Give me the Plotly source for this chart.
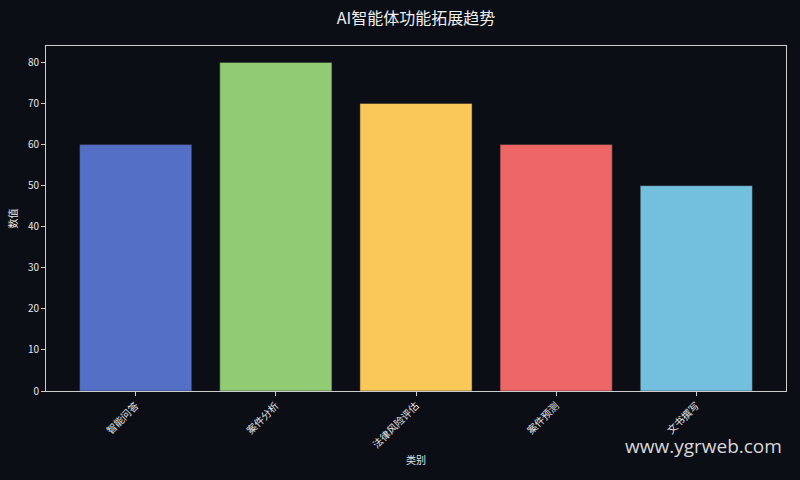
import plotly.graph_objects as go

categories = ["智能问答", "案件分析", "法律风险评估", "案件预测", "文书撰写"]
values = [60, 80, 70, 60, 50]
bar_colors = ["#5470c6", "#91cc75", "#fac858", "#ee6666", "#73c0de"]

bg = "#0b0e15"
font_cjk = "Noto Sans CJK SC, DejaVu Sans, sans-serif"

fig = go.Figure(
    go.Bar(
        x=categories,
        y=values,
        marker=dict(color=bar_colors, line=dict(color="#222222", width=0.5)),
        width=0.8,
    )
)

fig.update_layout(
    width=800,
    height=480,
    paper_bgcolor=bg,
    plot_bgcolor=bg,
    margin=dict(l=46, r=14, t=46, b=89),
    showlegend=False,
    font=dict(family=font_cjk, color="#e6e6e6", size=10),
    title=dict(
        text="AI智能体功能拓展趋势",
        xref="paper",
        x=0.5,
        xanchor="center",
        y=0.962,
        yanchor="middle",
        font=dict(size=16, color="#f0f0f0", family=font_cjk),
    ),
)

fig.update_xaxes(
    range=[-0.64, 4.64],
    tickangle=-45,
    ticks="outside",
    ticklen=4,
    tickcolor="#cccccc",
    showgrid=False,
    showline=True,
    linecolor="#cccccc",
    mirror=True,
    title=dict(text="类别", font=dict(size=10), standoff=6),
    tickfont=dict(size=10, color="#e6e6e6"),
)
fig.update_yaxes(
    range=[0, 84],
    dtick=10,
    ticks="outside",
    ticklen=4,
    tickcolor="#cccccc",
    showgrid=False,
    zeroline=False,
    showline=True,
    linecolor="#cccccc",
    mirror=True,
    title=dict(text="数值", font=dict(size=10), standoff=8),
    tickfont=dict(size=10, color="#e6e6e6"),
)

# watermark bottom right
fig.add_annotation(
    text="www.ygrweb.com",
    xref="paper",
    yref="paper",
    x=0.997,
    y=-0.16,
    xanchor="right",
    yanchor="middle",
    showarrow=False,
    font=dict(size=19, color="#d8d8d8", family="Open Sans, DejaVu Sans, sans-serif"),
)

fig.write_html(
    "out.html",
    config={"displayModeBar": False},
    post_script="document.body.style.margin='0';document.body.style.background='%s';" % bg,
)
